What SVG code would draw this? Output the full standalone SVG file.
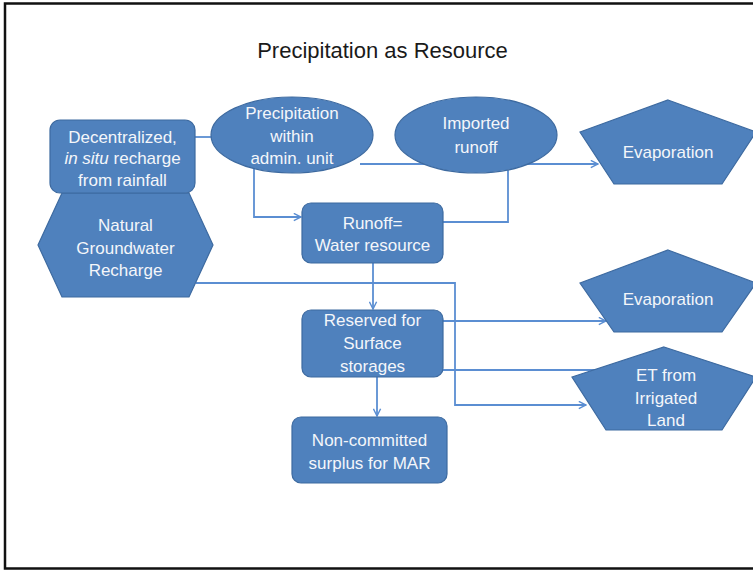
<svg xmlns="http://www.w3.org/2000/svg" width="753" height="571" viewBox="0 0 753 571">
  <defs>
    <marker id="arrow" viewBox="0 0 10 10" refX="9" refY="5" markerWidth="9" markerHeight="9" markerUnits="userSpaceOnUse" orient="auto">
      <path d="M1,1 L9,5 L1,9" fill="none" stroke="#5b8ed2" stroke-width="1.6"/>
    </marker>
    <style>
      .node { fill: #4f81bd; stroke: #3d6aa0; stroke-width: 1.2; }
      .lbl { font-family: "Liberation Sans", Arial, sans-serif; font-size: 17px; fill: #f4f6fa; text-anchor: middle; }
      .title { font-family: "Liberation Sans", Arial, sans-serif; font-size: 22px; fill: #1a1a1a; text-anchor: middle; }
      .conn { fill: none; stroke: #5b8ed2; stroke-width: 1.8; }
      .frame { fill: none; stroke: #111; stroke-width: 2.5; }
    </style>
  </defs>

  <rect x="0" y="0" width="753" height="571" fill="#ffffff"/>
  <path class="frame" d="M760,3.5 H5 V568.5 H760"/>

  <text class="title" x="382.5" y="58">Precipitation as Resource</text>

  <!-- connectors drawn beneath the shapes -->
  <g id="connectors">
    <path class="conn" d="M195,137 H214"/>
    <path class="conn" d="M254,166 V217 H301" marker-end="url(#arrow)"/>
    <path class="conn" d="M360,164 H598" marker-end="url(#arrow)"/>
    <path class="conn" d="M508,170 V222 H443"/>
    <path class="conn" d="M373,263 V309" marker-end="url(#arrow)"/>
    <path class="conn" d="M196,283 H455 V405 H586" marker-end="url(#arrow)"/>
    <path class="conn" d="M443,321 H606" marker-end="url(#arrow)"/>
    <path class="conn" d="M443,370 H600"/>
    <path class="conn" d="M377,377 V416" marker-end="url(#arrow)"/>
  </g>

  <g id="natural-recharge">
    <polygon class="node" points="62,193 189,193 213,245 189,297 62,297 38,245"/>
    <text class="lbl" x="125.5" y="231">Natural</text>
    <text class="lbl" x="125.5" y="254">Groundwater</text>
    <text class="lbl" x="125.5" y="276">Recharge</text>
  </g>

  <g id="decentralized">
    <rect class="node" x="50" y="120" width="145" height="73" rx="10"/>
    <text class="lbl" x="122.5" y="143">Decentralized,</text>
    <text class="lbl" x="122.5" y="164"><tspan font-style="italic">in situ</tspan> recharge</text>
    <text class="lbl" x="122.5" y="186">from rainfall</text>
  </g>

  <g id="precipitation">
    <ellipse class="node" cx="292" cy="135" rx="81" ry="38"/>
    <text class="lbl" x="292" y="119">Precipitation</text>
    <text class="lbl" x="292" y="142">within</text>
    <text class="lbl" x="292" y="164">admin. unit</text>
  </g>

  <g id="imported-runoff">
    <ellipse class="node" cx="476" cy="135" rx="81" ry="38"/>
    <text class="lbl" x="476" y="129">Imported</text>
    <text class="lbl" x="476" y="153">runoff</text>
  </g>

  <g id="evaporation-1">
    <polygon class="node" points="668,100 756,132 722,184 614,184 580,132"/>
    <text class="lbl" x="668" y="158">Evaporation</text>
  </g>

  <g id="runoff">
    <rect class="node" x="302" y="203" width="141" height="60" rx="9"/>
    <text class="lbl" x="372.5" y="229">Runoff=</text>
    <text class="lbl" x="372.5" y="251">Water resource</text>
  </g>

  <g id="reserved">
    <rect class="node" x="302" y="310" width="141" height="67" rx="9"/>
    <text class="lbl" x="372.5" y="326">Reserved for</text>
    <text class="lbl" x="372.5" y="349">Surface</text>
    <text class="lbl" x="372.5" y="372">storages</text>
  </g>

  <g id="evaporation-2">
    <polygon class="node" points="668,250 756,283 722,332 614,332 580,283"/>
    <text class="lbl" x="668" y="305">Evaporation</text>
  </g>

  <g id="et-irrigated">
    <polygon class="node" points="664,347 756,377 722,430 606,430 572,377"/>
    <text class="lbl" x="666" y="381">ET from</text>
    <text class="lbl" x="666" y="404">Irrigated</text>
    <text class="lbl" x="666" y="426">Land</text>
  </g>

  <g id="non-committed">
    <rect class="node" x="292" y="417" width="155" height="66" rx="9"/>
    <text class="lbl" x="369.5" y="446">Non-committed</text>
    <text class="lbl" x="369.5" y="469">surplus for MAR</text>
  </g>
</svg>
